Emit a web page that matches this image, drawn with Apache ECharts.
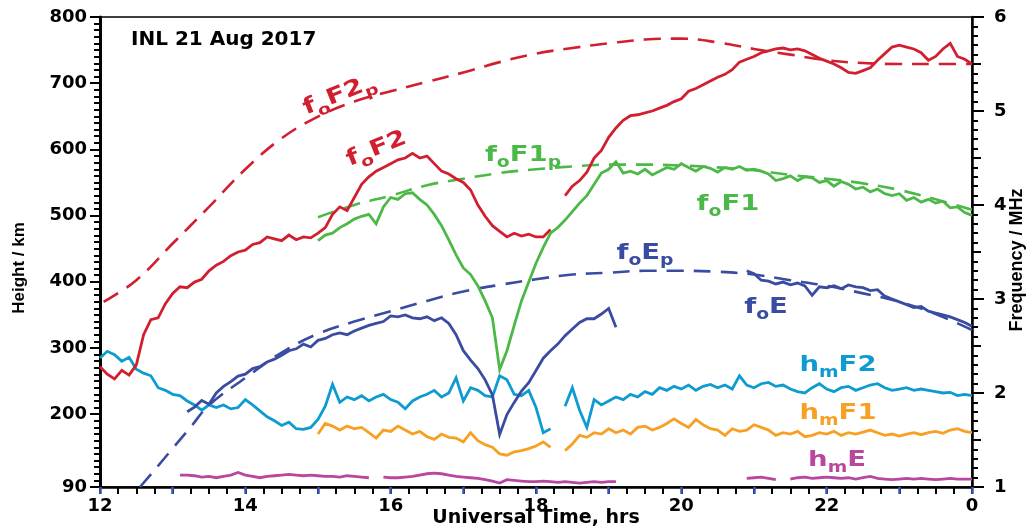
<!DOCTYPE html>
<html><head><meta charset="utf-8">
<script src="https://cdn.jsdelivr.net/npm/echarts@6/dist/echarts.min.js"></script>
<style>html,body{margin:0;padding:0;background:#fff}#c{width:1030px;height:528px}</style>
</head><body><div id="c"></div>
<script>
// ---- DATA ----
const title = 'INL 21 Aug 2017';
const xTickLabels = {12:'12',14:'14',16:'16',18:'18',20:'20',22:'22',24:'0'};
const heightTicks = [90,200,300,400,500,600,700,800];

// sampled every 0.1 h starting at the given hour; null = no data
const foF2_t0 = 12.0;
const foF2 = [2.28,2.20,2.15,2.24,2.19,2.30,2.62,2.78,2.80,2.95,
 3.06,3.13,3.12,3.18,3.21,3.30,3.36,3.40,3.46,3.50,
 3.52,3.58,3.60,3.66,3.64,3.62,3.68,3.63,3.66,3.65,
 3.70,3.76,3.90,3.98,3.94,4.08,4.22,4.30,4.36,4.40,
 4.44,4.48,4.50,4.55,4.50,4.52,4.44,4.36,4.33,4.28,
 4.24,4.16,4.00,3.88,3.78,3.72,3.66,3.70,3.67,3.69,
 3.66,3.66,3.74,null,4.10,4.20,4.26,4.35,4.50,4.58,
 4.72,4.82,4.90,4.95,4.96,4.98,5.00,5.03,5.06,5.10,
 5.13,5.21,5.24,5.28,5.32,5.36,5.39,5.44,5.52,5.55,
 5.58,5.62,5.64,5.66,5.67,5.65,5.66,5.64,5.60,5.56,
 5.53,5.50,5.46,5.41,5.40,5.43,5.46,5.54,5.61,5.68,
 5.70,5.68,5.66,5.62,5.54,5.58,5.66,5.72,5.58,5.55,
 5.50];

const foF1_t0 = 15.0;
const foF1 = [3.62,3.68,3.70,3.76,3.80,3.85,3.88,3.90,3.80,3.98,
 4.08,4.06,4.12,4.13,4.06,4.00,3.90,3.78,3.63,3.47,
 3.33,3.26,3.14,2.98,2.80,2.25,2.45,2.72,2.98,3.18,
 3.38,3.55,3.70,3.76,3.84,3.93,4.02,4.10,4.22,4.34,
 4.38,4.46,4.34,4.36,4.33,4.38,4.32,4.36,4.40,4.38,
 4.44,4.40,4.36,4.41,4.39,4.35,4.40,4.38,4.41,4.37,
 4.38,4.36,4.33,4.26,4.28,4.31,4.26,4.30,4.29,4.24,
 4.26,4.20,4.25,4.22,4.17,4.19,4.14,4.17,4.12,4.10,
 4.12,4.05,4.08,4.03,4.06,4.02,4.04,3.97,3.98,3.92,
 3.89];

const foE_t0 = 13.2;
const foE = [1.80,1.85,1.92,1.88,2.00,2.07,2.12,2.18,
 2.20,2.26,2.28,2.33,2.36,2.40,2.45,2.47,2.52,2.49,
 2.56,2.58,2.62,2.64,2.62,2.66,2.69,2.72,2.74,2.76,
 2.82,2.81,2.83,2.80,2.79,2.81,2.77,2.80,2.74,2.62,
 2.45,2.35,2.26,2.14,1.98,1.56,1.77,1.90,2.02,2.11,
 2.24,2.37,2.45,2.52,2.61,2.68,2.75,2.79,2.79,2.84,
 2.90,2.70,null,null,null,null,null,null,null,null,
 null,null,null,null,null,null,null,null,null,3.30,
 3.27,3.20,3.19,3.16,3.18,3.15,3.17,3.14,3.04,3.13,
 3.12,3.14,3.11,3.15,3.13,3.12,3.09,3.10,3.03,3.00,
 2.97,2.94,2.91,2.92,2.87,2.85,2.83,2.81,2.78,2.75,
 2.71];

const hmF2_t0 = 12.0;
const hmF2 = [285,295,290,280,286,268,262,258,240,236,
 230,228,220,214,206,214,210,214,208,210,
 222,214,205,196,190,183,188,178,177,180,
 192,212,245,218,226,222,228,220,226,230,
 222,218,208,220,226,230,236,226,232,255,
 220,240,236,228,226,258,252,230,228,236,
 210,172,178,null,212,240,206,180,222,214,
 220,226,222,230,226,234,230,240,236,242,
 238,244,236,242,245,240,244,238,258,244,
 240,246,248,242,244,238,234,232,240,246,
 238,234,240,242,236,240,244,246,240,236,
 238,240,236,238,236,234,232,233,228,230,
 228];

const hmF1_t0 = 15.0;
const hmF1 = [170,186,182,176,182,178,180,172,164,176,
 174,182,176,170,174,166,162,170,165,164,
 158,172,160,154,150,140,138,143,145,148,
 152,158,150,null,145,155,168,165,172,170,
 178,172,176,170,180,182,176,180,186,193,
 186,180,192,184,178,176,168,178,174,176,
 184,180,176,168,172,170,174,166,168,172,
 170,174,168,172,170,173,176,172,168,170,
 167,170,172,169,172,174,171,176,178,174,
 172];

const hmE_t0 = 13.1;
const hmE = [108,108,107,105,106,104,106,108,112,
 108,106,104,106,107,108,109,108,107,108,
 107,106,106,105,107,106,105,104,null,105,
 104,104,105,106,108,110,111,110,108,106,
 105,104,103,101,99,96,101,100,99,98,
 98,99,98,97,98,97,96,97,98,97,
 98,98,null,null,null,null,null,null,null,null,
 null,null,null,null,null,null,null,null,null,103,
 104,105,103,101,null,102,104,105,103,104,
 105,104,103,104,102,104,106,103,102,101,
 102,103,102,103,102,101,102,103,102,102,
 102];

// predicted (dashed) curves
const foF2p_t = [12.05,12.5,13,13.5,14,14.5,15,15.5,16,16.5,17,17.5,18,18.5,19,19.5,20,20.5,21,21.5,22,22.5,23,23.5,24];
const foF2p   = [2.97,3.20,3.59,3.98,4.38,4.71,4.94,5.10,5.21,5.31,5.41,5.52,5.61,5.67,5.72,5.76,5.77,5.73,5.66,5.60,5.54,5.51,5.50,5.50,5.50];
const foF1p_t = [15,15.5,16,16.5,17,17.5,18,18.5,19,19.5,20,20.5,21,21.5,22,22.5,23,23.5,24];
const foF1p   = [3.87,4.00,4.10,4.21,4.28,4.34,4.38,4.41,4.43,4.43,4.42,4.40,4.37,4.32,4.28,4.23,4.16,4.06,3.95];
const foEp_t  = [12.55,12.75,13,13.25,13.5,14,14.5,15,15.5,16,16.5,17,17.5,18,18.5,19,19.5,20,20.5,21,21.5,22,22.5,23,23.5,24];
const foEp    = [1.00,1.18,1.41,1.64,1.87,2.16,2.43,2.63,2.76,2.87,2.98,3.08,3.15,3.21,3.26,3.28,3.30,3.30,3.29,3.26,3.20,3.14,3.06,2.97,2.84,2.67];

// ---- helpers ----
function seq(t0, vals){ return vals.map((v,i)=>[Math.round((t0+i*0.1)*100)/100, v===null?'-':v]); }
function pairs(ts, vs){ return ts.map((t,i)=>[t, vs[i]]); }

const C = {red:'#d21f30', green:'#4cb848', blue:'#3a4ca2', cyan:'#0e9bd0', orange:'#f7a024', mag:'#b9479f'};
const FONT = 'DejaVu Sans';
const tickFont = {fontFamily:FONT, fontWeight:'bold', fontSize:18, color:'#000'};

function line(name, data, color, yIdx, dashed){
  return {name, type:'line', xAxisIndex:0, yAxisIndex:yIdx, data, showSymbol:false, symbol:'none',
    smooth: dashed ? 0.4 : false, connectNulls:false, z: dashed?2:3,
    lineStyle:{color, width: dashed?2.6:2.8, type: dashed?[17,10]:'solid', cap:'butt', join:'miter'},
    emphasis:{disabled:true}};
}

function lab(txt, x, y, color, rot){
  const m = {fontFamily:FONT, fontWeight:'bold', fontSize:22, lineHeight:24, verticalAlign:'top', fill:color, color};
  const s = {fontFamily:FONT, fontWeight:'bold', fontSize:15, lineHeight:15, padding:[12,0,0,0], verticalAlign:'top', fill:color, color};
  return {type:'text', x, y, rotation: rot||0, scaleX:1.25, z:100,
    style:{text:txt, align:'center', verticalAlign:'middle', textAlign:'center', textVerticalAlign:'middle', fill:color, rich:{m, s}}};
}

const chart = echarts.init(document.getElementById('c'), null, {renderer:'canvas'});
const gridBox = {left:100, right:58, top:17, bottom:41, containLabel:false, outerBoundsMode:'none'};
const tickLine = {color:'#000', width:2};

chart.setOption({
  animation:false,
  backgroundColor:'#fff',
  title:{text:title, left:126, top:25, textStyle:{fontFamily:FONT, fontWeight:'bold', fontSize:20, color:'#000'}},
  grid:[Object.assign({show:true, borderColor:'#000', borderWidth:1.5}, gridBox),
        Object.assign({show:false}, gridBox)],
  xAxis:[
    {gridIndex:0, type:'value', min:12, max:24, interval:2, position:'bottom',
     axisLine:{show:true, onZero:false, lineStyle:{color:'#000', width:2.5}},
     axisTick:{show:true, length:7, lineStyle:tickLine},
     minorTick:{show:true, splitNumber:8, length:7, lineStyle:tickLine},
     splitLine:{show:false}, minorSplitLine:{show:false},
     axisLabel:Object.assign({margin:10, formatter:v=>xTickLabels[v]||''}, tickFont),
     name:'Universal Time, hrs', nameLocation:'middle', nameGap:22, nameMoveOverlap:false,
     nameTextStyle:{fontFamily:FONT, fontWeight:'bold', fontSize:19, color:'#000'}},
    {gridIndex:1, type:'value', min:12, max:24, interval:1, position:'bottom',
     axisLine:{show:false}, axisLabel:{show:false}, splitLine:{show:false},
     axisTick:{show:true, length:7, lineStyle:{color:'#3a55b5', width:2.5}}}
  ],
  yAxis:[
    {gridIndex:0, type:'value', position:'left', min:90, max:800,
     axisLine:{show:true, onZero:false, lineStyle:{color:'#000', width:3}},
     axisTick:{show:true, length:10, customValues:heightTicks, lineStyle:tickLine},
     axisLabel:Object.assign({margin:13, customValues:heightTicks}, tickFont),
     splitLine:{show:false},
     name:'Height / km', nameLocation:'middle', nameRotate:90, nameGap:72, nameMoveOverlap:false,
     nameTextStyle:{fontFamily:'Liberation Sans', fontWeight:'bold', fontSize:17, color:'#000', padding:[0,32,0,0]}},
    {gridIndex:0, type:'value', position:'right', min:1, max:6, interval:1,
     axisLine:{show:true, onZero:false, lineStyle:{color:'#000', width:2.5}},
     axisTick:{show:true, length:12, lineStyle:tickLine},
     minorTick:{show:true, splitNumber:10, length:6, lineStyle:tickLine},
     axisLabel:Object.assign({margin:22}, tickFont),
     splitLine:{show:false}, minorSplitLine:{show:false},
     name:'Frequency / MHz', nameLocation:'middle', nameRotate:90, nameGap:36, nameMoveOverlap:false,
     nameTextStyle:{fontFamily:'Liberation Sans', fontWeight:'bold', fontSize:18, color:'#000', padding:[0,16,0,0]}},
    {gridIndex:1, type:'value', position:'left', min:90, max:800, interval:10,
     axisLine:{show:false}, axisLabel:{show:false}, splitLine:{show:false},
     axisTick:{show:true, length:6, lineStyle:tickLine}},
    {gridIndex:1, type:'value', position:'right', min:1, max:6, interval:0.5,
     axisLine:{show:false}, axisLabel:{show:false}, splitLine:{show:false},
     axisTick:{show:true, length:9, lineStyle:tickLine}}
  ],
  series:[
    line('foF2p', pairs(foF2p_t, foF2p), C.red, 1, true),
    line('foF1p', pairs(foF1p_t, foF1p), C.green, 1, true),
    line('foEp', pairs(foEp_t, foEp), C.blue, 1, true),
    line('hmE', seq(hmE_t0, hmE), C.mag, 0),
    line('hmF1', seq(hmF1_t0, hmF1), C.orange, 0),
    line('hmF2', seq(hmF2_t0, hmF2), C.cyan, 0),
    line('foE', seq(foE_t0, foE), C.blue, 1),
    line('foF2', seq(foF2_t0, foF2), C.red, 1),
    line('foF1', seq(foF1_t0, foF1), C.green, 1)
  ],
  graphic:[
    lab('{m|f}{s|o}{m|F2}{s|p}', 340, 96, C.red, 0.38),
    lab('{m|f}{s|o}{m|F2}', 377, 150, C.red, 0.38),
    lab('{m|f}{s|o}{m|F1}{s|p}', 523, 156, C.green, 0),
    lab('{m|f}{s|o}{m|F1}', 728, 205, C.green, 0),
    lab('{m|f}{s|o}{m|E}{s|p}', 645, 254, C.blue, 0),
    lab('{m|f}{s|o}{m|E}', 766, 308, C.blue, 0),
    lab('{m|h}{s|m}{m|F2}', 838, 366, C.cyan, 0),
    lab('{m|h}{s|m}{m|F1}', 838, 414, C.orange, 0),
    lab('{m|h}{s|m}{m|E}', 837, 461, C.mag, 0)
  ]
});
</script></body></html>
